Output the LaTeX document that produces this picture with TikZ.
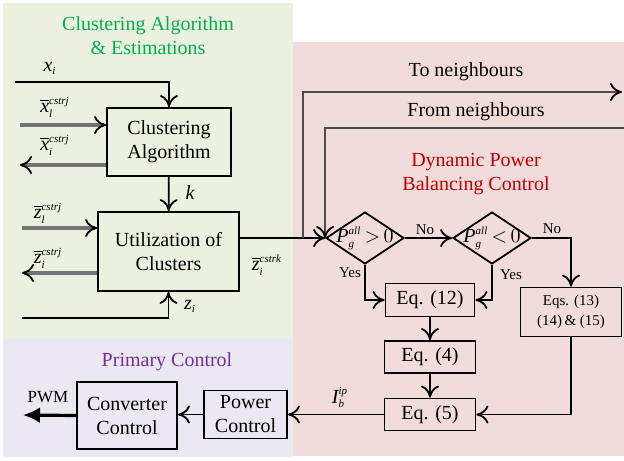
\documentclass[tikz,border=0pt]{standalone}
\usepackage{fontspec}
\setmainfont{Liberation Serif}
\usetikzlibrary{arrows.meta, shapes.geometric}
\definecolor{bggreen}{RGB}{235,241,222}
\definecolor{bgpink}{RGB}{242,220,219}
\definecolor{bglav}{RGB}{235,232,241}
\definecolor{titgreen}{RGB}{0,176,80}
\definecolor{titred}{RGB}{192,0,0}
\definecolor{titpurple}{RGB}{112,48,160}
\newcommand{\idx}[1]{\mbox{\fontsize{5.5}{6}\selectfont\itshape #1}}
\newcommand{\vbar}[1]{\overline{\mbox{\itshape #1}}}
\newcommand{\sym}[1]{\mbox{\itshape #1}}

\begin{document}
\begin{tikzpicture}[x=0.5pt, y=-0.5pt, line width=0.9pt,
  >={Computer Modern Rightarrow[length=6pt, width=9pt]},
  blk/.style={draw, align=center, inner sep=0pt},
  dec/.style={draw, diamond, inner sep=0pt, minimum width=39pt, minimum height=26pt},
  vec/.style={line width=1.8pt, draw=black!55},
  nbr/.style={line width=1.2pt, draw=black!70},
  vecarr/.style={-{Computer Modern Rightarrow[length=6pt, width=9pt, color=black, line width=0.9pt]}},
  tag/.style={font=\fontsize{7.5}{9}\selectfont}]
\useasboundingbox (0,0) rectangle (624,460);
% areas
\fill [bggreen] (3,3) rectangle (293,338);
\fill [bgpink] (293,42) rectangle (624,456);
\fill [bglav] (3,338) rectangle (293,457);
\node [titgreen, align=center] (ttlclus) at (148,36) {Clustering Algorithm\\\& Estimations};
\node [titred, align=center] (ttldpb) at (476,174) {Dynamic Power\\Balancing Control};
\node [titpurple] (ttlprim) at (167,362) {Primary Control};
% blocks
\node [blk, minimum width=62pt, minimum height=34pt] (clus) at (169,142) {Clustering\\Algorithm};
\node [blk, minimum width=70.5pt, minimum height=39.5pt] (util) at (168.5,251.5) {Utilization of\\Clusters};
\node [dec, label=center:{$\sym{P}_{\idx{g}}^{\idx{all}}\,{>}\,0$}] (d1) at (365,238) {};
\node [dec, label=center:{$\sym{P}_{\idx{g}}^{\idx{all}}\,{<}\,0$}] (d2) at (492,238) {};
\node [blk, minimum width=44.5pt, minimum height=16.5pt] (eq12) at (430,300) {Eq. (12)};
\node [blk, minimum width=45.5pt, minimum height=16pt] (eq4) at (430,357) {Eq. (4)};
\node [blk, minimum width=45.5pt, minimum height=16pt] (eq5) at (430,414.5) {Eq. (5)};
\node [blk, minimum width=50.5pt, minimum height=24.5pt, font=\fontsize{7.5}{10}\selectfont] (eqs) at (571,312) {Eqs. (13)\\(14)\,\& (15)};
\node [blk, minimum width=41.5pt, minimum height=24pt] (pc) at (245.5,414.5) {Power\\Control};
\node [blk, minimum width=50pt, minimum height=33.5pt] (cc) at (127,415.5) {Converter\\Control};
% free ends
\coordinate (xi) at (15,82);
\coordinate (xl) at (20,125);
\coordinate (xo) at (20,165);
\coordinate (zl) at (22,228);
\coordinate (zo) at (22,273);
\coordinate (zi) at (22,318);
\coordinate (jn) at (303,238);
\coordinate (tn) at (622,92);
\coordinate (fn) at (624,128);
\coordinate (pwm) at (23,415);
% connectors
\draw [->] (xi) -| (clus);
\draw [vec, vecarr] (xl) -- (xl -| clus.west);
\draw [vec, vecarr] (xo -| clus.west) -- (xo);
\draw [->] (clus) -- (util);
\draw [vec, vecarr] (zl) -- (zl -| util.west);
\draw [vec, vecarr] (zo -| util.west) -- (zo);
\draw [->] (zi) -| (util);
\draw (jn -| util.east) -- (jn);
\draw [->] (jn) -- (d1.west);
\draw [nbr, vecarr] (jn) |- (tn);
\draw [nbr, vecarr] (fn) -| (d1.west);
\draw [->] (d1) -- (d2);
\draw [->] (d2.east) -| (eqs);
\draw [->] (d1.south) |- (eq12.west);
\draw [->] (d2.south) |- (eq12.east);
\draw [->] (eq12) -- (eq4);
\draw [->] (eq4) -- (eq5);
\draw [->] (eqs.south) |- (eq5.east);
\draw [->] (eq5.west) -- (eq5.west -| pc.east);
\draw [->] (pc.west) -- (pc.west -| cc.east);
\draw [-{Latex[length=8.5pt, width=8pt]}, line width=1.6pt] (cc.west) -- (pwm);
% labels
\node (lxi) at (50,68) {$\sym{x}_{\idx{i}}$};
\node (lxl) at (55,107) {$\vbar{x}_{\idx{l}}^{\idx{cstrj}}$};
\node (lxo) at (55,145) {$\vbar{x}_{\idx{i}}^{\idx{cstrj}}$};
\node (lk) at (190,193) {\sym{k}};
\node (lzl) at (48,213) {$\vbar{z}_{\idx{l}}^{\idx{cstrj}}$};
\node (lzo) at (48,258) {$\vbar{z}_{\idx{i}}^{\idx{cstrj}}$};
\node (lzi) at (190,306) {$\sym{z}_{\idx{i}}$};
\node (lzk) at (267,265) {$\vbar{z}_{\idx{i}}^{\idx{cstrk}}$};
\node (ltn) at (466,72) {To neighbours};
\node (lfn) at (476,112) {From neighbours};
\node [tag] (lno1) at (425,230) {No};
\node [tag] (lno2) at (552,229) {No};
\node [tag] (lyes1) at (350,273) {Yes};
\node [tag] (lyes2) at (511,275) {Yes};
\node (lib) at (340,397) {$\sym{I}_{\idx{b}}^{\idx{ip}}$};
\node [font=\fontsize{8.5}{10}\selectfont] (lpwm) at (48,397) {PWM};
\end{tikzpicture}
\end{document}
